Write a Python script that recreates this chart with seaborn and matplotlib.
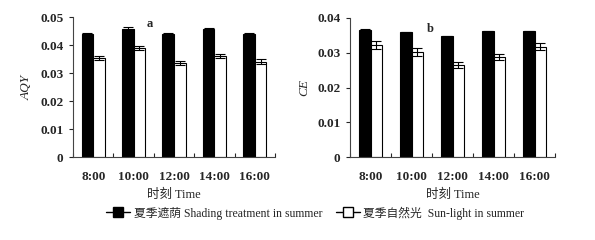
import matplotlib
matplotlib.use("Agg")
import matplotlib.pyplot as plt
from matplotlib.lines import Line2D
import seaborn as sns
import pandas as pd
import numpy as np

times = ["8:00", "10:00", "12:00", "14:00", "16:00"]
series = ["夏季遮荫 Shading treatment in summer", "夏季自然光  Sun-light in summer"]

aqy_shade = [0.0441, 0.0457, 0.0441, 0.0458, 0.0441]
aqy_shade_err = [0.0003, 0.0007, 0.0003, 0.0003, 0.0003]
aqy_sun = [0.0355, 0.0390, 0.0336, 0.0361, 0.0341]
aqy_sun_err = [0.0007, 0.0007, 0.0008, 0.0008, 0.0009]

ce_shade = [0.0365, 0.0359, 0.0347, 0.0362, 0.0362]
ce_shade_err = [0.0002, 0.0002, 0.0002, 0.0002, 0.0002]
ce_sun = [0.0322, 0.0302, 0.0265, 0.0288, 0.0317]
ce_sun_err = [0.0011, 0.0011, 0.0008, 0.0009, 0.0010]

sns.set_theme(style="ticks")
serif = ["Liberation Serif", "Noto Sans CJK SC"]
plt.rcParams["font.family"] = serif

fig = plt.figure(figsize=(5.95, 2.4), dpi=100)
ax1 = fig.add_axes([73/595, 1-157/240, 202/595, 140/240])
ax2 = fig.add_axes([350/595, 1-157/240, 205/595, 139/240])

def panel(ax, shade, shade_err, sun, sun_err, ymax, yticks, ylabel, letter, lx, ly):
    df = pd.DataFrame({
        "time": times * 2,
        "val": list(shade) + list(sun),
        "series": [series[0]] * len(times) + [series[1]] * len(times),
    })
    sns.barplot(data=df, x="time", y="val", hue="series", order=times,
                hue_order=series, palette=["black", "white"], width=0.57,
                gap=0, errorbar=None, edgecolor="black", linewidth=0.8,
                legend=False, ax=ax)
    errs = list(shade_err) + list(sun_err)
    vals = list(shade) + list(sun)
    bars = [p for p in ax.patches][:len(vals)]
    xs = [b.get_x() + b.get_width() / 2 for b in bars]
    ax.errorbar(xs, vals, yerr=errs, fmt="none", ecolor="black",
                elinewidth=0.8, capsize=3.5, capthick=0.8)
    ax.set_ylim(0, ymax)
    ax.set_xlim(-0.5, len(times) - 0.5)
    ax.set_yticks(yticks)
    ax.set_yticklabels(["0"] + [f"{t:.2f}" for t in yticks[1:]])
    ax.set_xticks(np.arange(len(times)))
    ax.set_xticklabels(times)
    ax.tick_params(axis="x", length=0, labelsize=9.5, pad=10)
    ax.set_xticks(np.arange(len(times) + 1) - 0.5, minor=True)
    ax.tick_params(axis="x", which="minor", direction="in", length=3, width=0.8)
    ax.tick_params(axis="y", length=3, width=0.8, labelsize=9.5, pad=4)
    for lab in ax.get_xticklabels() + ax.get_yticklabels():
        lab.set_fontweight("bold")
        lab.set_family(serif)
    ax.set_xlabel("时刻 Time", fontsize=9, labelpad=4, family=serif)
    ax.set_ylabel(ylabel, fontsize=9.5, style="italic", family=serif, labelpad=5)
    for s in ["top", "right"]:
        ax.spines[s].set_visible(False)
    for s in ["left", "bottom"]:
        ax.spines[s].set_linewidth(0.8)
        ax.spines[s].set_color("#444444")
    ax.text(lx, ly, letter, transform=ax.transAxes, fontsize=9,
            fontweight="bold", family=serif, ha="center", va="center")
    ax.set_facecolor("white")

panel(ax1, aqy_shade, aqy_shade_err, aqy_sun, aqy_sun_err, 0.05,
      [0, 0.01, 0.02, 0.03, 0.04, 0.05], "AQY", "a", 0.38, 0.95)
panel(ax2, ce_shade, ce_shade_err, ce_sun, ce_sun_err, 0.04,
      [0, 0.01, 0.02, 0.03, 0.04], "CE", "b", 0.39, 0.92)

handles = [
    Line2D([], [], color="black", marker="s", markerfacecolor="black",
           markeredgecolor="black", markersize=6.5, linewidth=1),
    Line2D([], [], color="black", marker="s", markerfacecolor="white",
           markeredgecolor="black", markersize=6.5, linewidth=1),
]
fig.legend(handles, series, loc="center", bbox_to_anchor=(0.53, 1-213/240),
           ncol=2, frameon=False, prop={"family": serif, "size": 8.5},
           handlelength=2.0, handletextpad=0.3, columnspacing=1.2)

fig.savefig("out.png", dpi=100, facecolor="white")
